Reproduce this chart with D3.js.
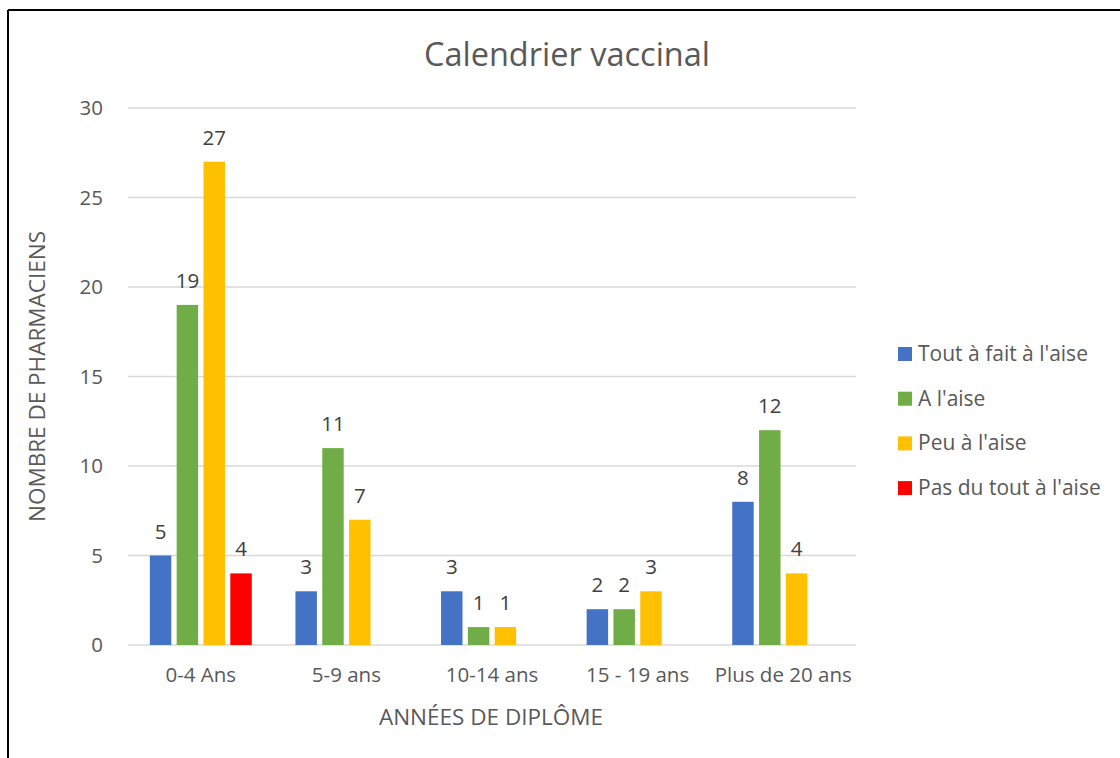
<!DOCTYPE html>
<html>
<head>
<meta charset="utf-8">
<script src="https://cdn.jsdelivr.net/npm/d3@7"></script>
<style>
  body { margin: 0; background: #fff; }
  text { font-family: "Open Sans", "Noto Sans", sans-serif; fill: #595959; }
</style>
</head>
<body>
<div id="chart"></div>
<script>
// data
const categories = ["0-4 Ans", "5-9 ans", "10-14 ans", "15 - 19 ans", "Plus de 20 ans"];
const seriesNames = ["Tout à fait à l'aise", "A l'aise", "Peu à l'aise", "Pas du tout à l'aise"];
const seriesColors = ["#4472C4", "#70AD47", "#FFC000", "#FF0000"];
const toutAFait = [5, 3, 3, 2, 8];
const aLaise = [19, 11, 1, 2, 12];
const peuALaise = [27, 7, 1, 3, 4];
const pasDuTout = [4, null, null, null, null];
const yTicks = [0, 5, 10, 15, 20, 25, 30];

const width = 1120, height = 758;
const margin = {top: 108, right: 264, bottom: 113, left: 128};

const svg = d3.select("#chart")
  .append("svg")
  .attr("width", width)
  .attr("height", height);

// frame (top + left edges only, like the cropped screenshot)
svg.append("line").attr("x1", 8).attr("x2", width).attr("y1", 10).attr("y2", 10)
  .attr("stroke", "#000").attr("stroke-width", 2);
svg.append("line").attr("x1", 8).attr("x2", 8).attr("y1", 10).attr("y2", height)
  .attr("stroke", "#000").attr("stroke-width", 2);

const allSeries = [toutAFait, aLaise, peuALaise, pasDuTout];

// scales
let x0 = d3.scaleBand()
  .domain(categories)
  .range([margin.left, width - margin.right])
  .paddingInner(0.3)
  .paddingOuter(0.15);

let x1 = d3.scaleBand()
  .domain(d3.range(seriesNames.length))
  .range([0, x0.bandwidth()])
  .paddingInner(0.2);

let y = d3.scaleLinear()
  .domain([0, 30])
  .range([height - margin.bottom, margin.top]);

// gridlines
svg.append("g")
  .selectAll("line")
  .data(yTicks)
  .enter()
  .append("line")
  .attr("x1", margin.left)
  .attr("x2", width - margin.right)
  .attr("y1", (d) => y(d))
  .attr("y2", (d) => y(d))
  .attr("stroke", "#D9D9D9")
  .attr("stroke-width", 1.5);

// y axis labels
svg.append("g")
  .attr("transform", `translate(${margin.left}, 0)`)
  .call(d3.axisLeft(y).tickValues(yTicks).tickSize(0).tickPadding(25))
  .call((g) => g.select(".domain").remove())
  .call((g) => g.selectAll("text").attr("font-size", "20.5px").attr("fill", "#595959")
    .style("font-family", "'Open Sans', sans-serif"));

// x axis labels
svg.append("g")
  .attr("transform", `translate(0, ${height - margin.bottom})`)
  .call(d3.axisBottom(x0).tickSize(0).tickPadding(22))
  .call((g) => g.select(".domain").remove())
  .call((g) => g.selectAll("text").attr("font-size", "20.5px").attr("fill", "#595959")
    .style("font-family", "'Open Sans', sans-serif"));

// bars
allSeries.forEach((vals, si) => {
  const pts = vals.map((v, i) => ({cat: categories[i], v: v})).filter((d) => d.v != null);
  const g = svg.append("g");
  g.selectAll("rect")
    .data(pts)
    .enter()
    .append("rect")
    .attr("x", (d) => x0(d.cat) + x1(si))
    .attr("y", (d) => y(d.v))
    .attr("width", x1.bandwidth())
    .attr("height", (d) => y(0) - y(d.v))
    .style("fill", seriesColors[si]);
  g.selectAll("text")
    .data(pts)
    .enter()
    .append("text")
    .attr("x", (d) => x0(d.cat) + x1(si) + x1.bandwidth() / 2)
    .attr("y", (d) => y(d.v) - 17)
    .attr("text-anchor", "middle")
    .attr("font-size", "20.5px")
    .style("fill", "#404040")
    .text((d) => d.v);
});

// title
svg.append("text")
  .attr("x", 567)
  .attr("y", 66)
  .attr("text-anchor", "middle")
  .attr("font-size", "32.5px")
  .text("Calendrier vaccinal");

// axis titles
svg.append("text")
  .attr("x", 491)
  .attr("y", 725)
  .attr("text-anchor", "middle")
  .attr("font-size", "22.5px")
  .text("ANNÉES DE DIPLÔME");

svg.append("text")
  .attr("transform", `translate(45, ${(margin.top + height - margin.bottom) / 2}) rotate(-90)`)
  .attr("text-anchor", "middle")
  .attr("font-size", "22.5px")
  .text("NOMBRE DE PHARMACIENS");

// legend
const legend = svg.append("g")
  .selectAll("g")
  .data(seriesNames)
  .enter()
  .append("g")
  .attr("transform", (d, i) => `translate(898, ${354 + i * 44.7})`);

legend.append("rect")
  .attr("x", 0)
  .attr("y", -7)
  .attr("width", 14)
  .attr("height", 14)
  .style("fill", (d, i) => seriesColors[i]);

legend.append("text")
  .attr("x", 20)
  .attr("y", 7)
  .attr("font-size", "21px")
  .text((d) => d);
</script>
</body>
</html>
